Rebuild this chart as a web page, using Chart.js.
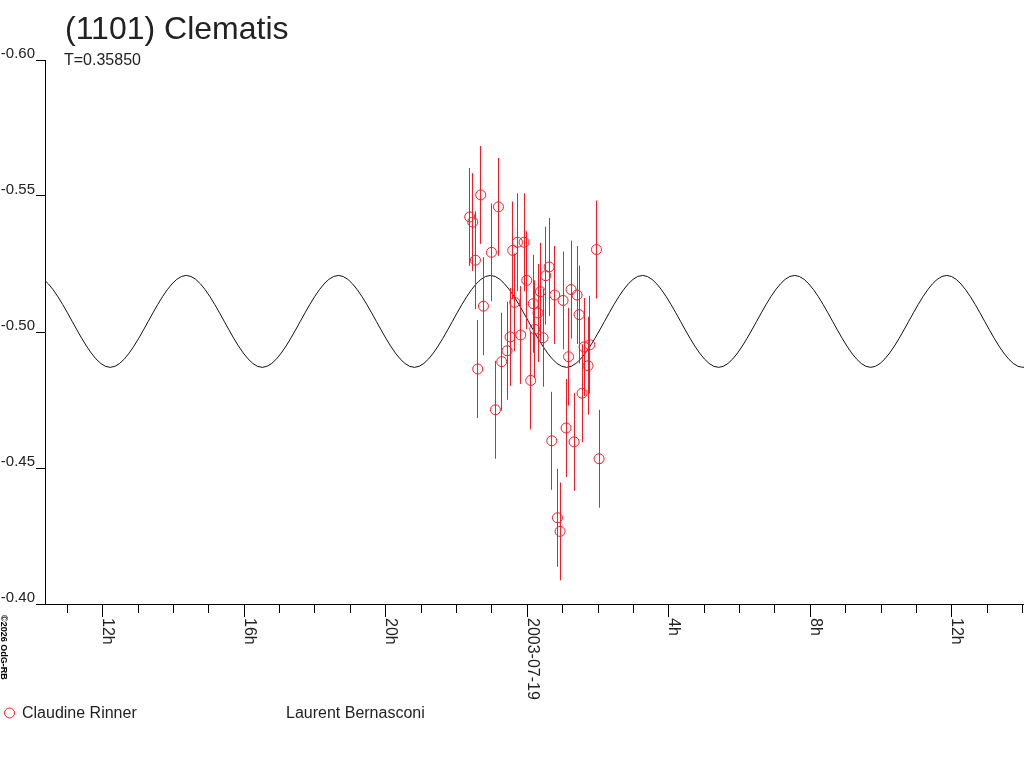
<!DOCTYPE html>
<html>
<head>
<meta charset="utf-8">
<title>(1101) Clematis</title>
<script src="https://cdn.jsdelivr.net/npm/chart.js@4.4.1/dist/chart.umd.min.js"></script>
<style>
  html, body { margin: 0; padding: 0; background: #fff; }
  canvas { display: block; }
</style>
</head>
<body>
<canvas id="lightcurve" width="1024" height="768"></canvas>
<script>
// Observations: hours since 2003-07-18 00:00 UT, magnitude, error
const obsHours = [22.374, 22.459, 22.535, 22.600, 22.685, 22.761, 22.988, 23.101, 23.186, 23.279,
                  23.429, 23.514, 23.590, 23.646, 23.723, 23.816, 23.910, 23.986, 24.099, 24.170,
                  24.212, 24.305, 24.373, 24.447, 24.523, 24.617, 24.693, 24.778, 24.854, 24.928,
                  25.012, 25.097, 25.168, 25.239, 25.324, 25.408, 25.465, 25.550, 25.606, 25.719,
                  25.768, 25.957, 26.031];
const obsMags = [-0.5423, -0.5404, -0.5264, -0.4864, -0.5504, -0.5095, -0.5293, -0.4714, -0.5460, -0.4891,
                 -0.4931, -0.4982, -0.5300, -0.5109, -0.5330, -0.4989, -0.5330, -0.5190, -0.4822, -0.5104,
                 -0.5010, -0.5070, -0.5148, -0.4979, -0.5207, -0.5239, -0.4600, -0.5136, -0.4317, -0.4267,
                 -0.5116, -0.4647, -0.4909, -0.5156, -0.4596, -0.5136, -0.5064, -0.4775, -0.4945, -0.4876,
                 -0.4953, -0.5303, -0.4534];
const obsErrors = [0.018, 0.018, 0.018, 0.018, 0.018, 0.018, 0.018, 0.018, 0.018, 0.018,
                   0.018, 0.018, 0.018, 0.018, 0.018, 0.018, 0.018, 0.018, 0.018, 0.018,
                   0.018, 0.018, 0.018, 0.018, 0.018, 0.018, 0.018, 0.018, 0.018, 0.018,
                   0.018, 0.018, 0.018, 0.018, 0.018, 0.018, 0.018, 0.018, 0.018, 0.018,
                   0.018, 0.018, 0.018];

// Fitted light curve, maxima and minima
// (first and last ones sit just outside the axis so the edges keep their shape)
const fitHours = [7.915, 10.064, 12.213, 14.362, 16.511, 18.661, 20.810, 22.959,
                  25.109, 27.258, 29.407, 31.557, 33.706, 35.855, 38.004, 40.153];
const fitMags = [-0.4870, -0.5208, -0.4870, -0.5208, -0.4870, -0.5208, -0.4870, -0.5208,
                 -0.4870, -0.5208, -0.4870, -0.5208, -0.4870, -0.5208, -0.4870, -0.5208];

// Axes
const xMin = 10.37;
const xMax = 38.04;
const xMinorTicks = [11, 12, 13, 14, 15, 16, 17, 18, 19, 20, 21, 22, 23, 24,
                     25, 26, 27, 28, 29, 30, 31, 32, 33, 34, 35, 36, 37, 38];
const xMajorTicks = [12, 16, 20, 24, 28, 32, 36];
const xMajorLabels = ['12h', '16h', '20h', '2003-07-19', '4h', '8h', '12h'];
const yTicks = [-0.60, -0.55, -0.50, -0.45, -0.40];

// Texts
const titleText = '(1101) Clematis';
const periodText = 'T=0.35850';
const observers = ['Claudine Rinner', 'Laurent Bernasconi'];
const copyrightText = '\u00a92026 OdG-RB';

const RED = 'rgb(240,30,40)';
const TEXT = '#222';
const FONT = '"Liberation Sans", Arial, sans-serif';

// Error bars, title, rotated x labels, legend
const decorPlugin = {
    id: 'decor',
    afterDatasetsDraw(chart) {
        const ctx = chart.ctx;
        const xs = chart.scales.x;
        const ys = chart.scales.y;
        const area = chart.chartArea;
        ctx.save();
        ctx.beginPath();
        ctx.rect(area.left, area.top, area.right - area.left, area.bottom - area.top);
        ctx.clip();
        ctx.strokeStyle = RED;
        ctx.lineWidth = 1;
        obsHours.forEach((h, i) => {
            const x = Math.round(xs.getPixelForValue(h) - 0.5) + 0.5;
            const y1 = ys.getPixelForValue(obsMags[i] - obsErrors[i]);
            const y2 = ys.getPixelForValue(obsMags[i] + obsErrors[i]);
            ctx.beginPath();
            ctx.moveTo(x, y1);
            ctx.lineTo(x, y2);
            ctx.stroke();
        });
        ctx.restore();
    },
    afterDraw(chart) {
        const ctx = chart.ctx;
        const xs = chart.scales.x;
        const bottom = chart.chartArea.bottom;
        ctx.save();
        ctx.fillStyle = TEXT;
        ctx.textAlign = 'left';
        ctx.textBaseline = 'alphabetic';

        ctx.font = '32px ' + FONT;
        ctx.fillText(titleText, 65, 39);
        ctx.font = '16px ' + FONT;
        ctx.fillText(periodText, 64, 65);

        // longer tick + vertical label every 4 hours
        ctx.strokeStyle = '#000';
        ctx.lineWidth = 1;
        xMajorTicks.forEach((h, i) => {
            const x = Math.round(xs.getPixelForValue(h) - 0.5) + 0.5;
            ctx.beginPath();
            ctx.moveTo(x, bottom);
            ctx.lineTo(x, bottom + 13);
            ctx.stroke();
            ctx.save();
            ctx.translate(x + 0.5, bottom + 14);
            ctx.rotate(Math.PI / 2);
            ctx.fillText(xMajorLabels[i], 0, 0);
            ctx.restore();
        });

        // legend
        ctx.fillText(observers[0], 22, 718);
        ctx.fillText(observers[1], 286, 718);
        ctx.strokeStyle = RED;
        ctx.beginPath();
        ctx.arc(9.5, 713, 5, 0, Math.PI * 2);
        ctx.stroke();

        // copyright, written downwards at the left edge
        ctx.fillStyle = '#000';
        ctx.font = 'bold 9px ' + FONT;
        ctx.translate(1, 615);
        ctx.rotate(Math.PI / 2);
        ctx.fillText(copyrightText, 0, 0);
        ctx.restore();
    }
};

const points = obsHours.map((h, i) => ({ x: h, y: obsMags[i] }));
const curve = fitHours.map((h, i) => ({ x: h, y: fitMags[i] }));

new Chart(document.getElementById('lightcurve'), {
    type: 'scatter',
    data: {
        datasets: [
            {
                label: observers[0],
                data: points,
                showLine: false,
                pointStyle: 'circle',
                pointRadius: 5,
                pointBorderWidth: 1,
                pointBorderColor: RED,
                pointBackgroundColor: 'rgba(0,0,0,0)'
            },
            {
                label: 'fit',
                data: curve,
                showLine: true,
                borderColor: '#111',
                borderWidth: 1,
                pointRadius: 0,
                cubicInterpolationMode: 'monotone',
                fill: false
            }
        ]
    },
    options: {
        responsive: false,
        animation: false,
        events: [],
        layout: { autoPadding: false, padding: { top: 60, left: 0, right: 0, bottom: 0 } },
        plugins: {
            legend: { display: false },
            title: { display: false },
            tooltip: { enabled: false }
        },
        scales: {
            x: {
                type: 'linear',
                min: xMin,
                max: xMax,
                afterBuildTicks: s => { s.ticks = xMinorTicks.map(v => ({ value: v })); },
                afterFit: s => { s.height = 164; },
                border: { display: true, color: '#000', width: 1 },
                grid: { drawOnChartArea: false, drawTicks: true, tickLength: 9, color: '#000' },
                ticks: { display: false }
            },
            y: {
                type: 'linear',
                reverse: true,
                min: -0.60,
                max: -0.40,
                afterBuildTicks: s => { s.ticks = yTicks.map(v => ({ value: v })); },
                afterFit: s => { s.width = 45; },
                border: { display: true, color: '#000', width: 1 },
                grid: { drawOnChartArea: false, drawTicks: true, tickLength: 9, color: '#000' },
                ticks: {
                    color: TEXT,
                    font: { family: FONT, size: 15 },
                    padding: 1,
                    labelOffset: -6,
                    callback: v => v.toFixed(2)
                }
            }
        }
    },
    plugins: [decorPlugin]
});
</script>
</body>
</html>
